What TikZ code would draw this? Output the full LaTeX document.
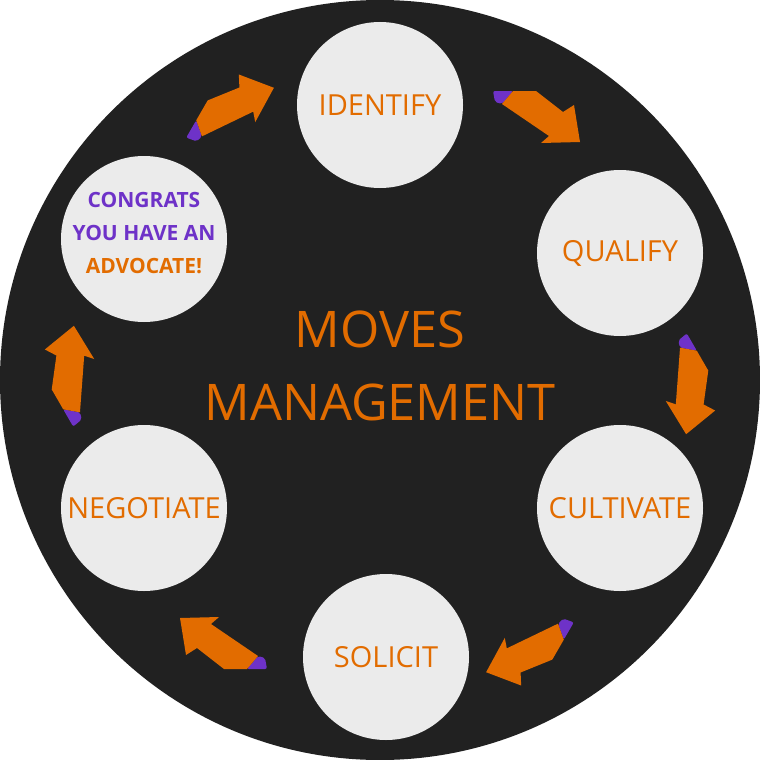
\documentclass[tikz,border=0pt]{standalone}
\usepackage{fontspec}
\setmainfont{Open Sans}
\definecolor{orng}{RGB}{226,108,0}
\definecolor{purp}{RGB}{110,50,200}
\definecolor{bgdark}{RGB}{33,33,33}
\definecolor{nodefill}{RGB}{235,235,235}
\begin{document}
\begin{tikzpicture}[x=1pt,y=-1pt,
  stage/.style={circle,fill=nodefill,minimum size=166pt,inner sep=0pt,text=orng,font=\fontsize{29}{30}\selectfont},
  title/.style={text=orng,font=\fontsize{50.5}{73}\selectfont,align=center},
  congr/.style={font=\bfseries\fontsize{21}{33}\selectfont,align=center}]
\useasboundingbox (0,0) rectangle (760,760);
\fill[white] (0,0) rectangle (760,760);
\fill[bgdark] (380,380) circle[radius=380];
\node[stage] (identify) at (380,105) {IDENTIFY};
\node[stage] (qualify) at (620,253) {QUALIFY};
\node[stage] (cultivate) at (620,508) {CULTIVATE};
\node[stage] (solicit) at (386,657) {SOLICIT};
\node[stage] (negotiate) at (144,508) {NEGOTIATE};
\node[stage] (congrats) at (144,239) {};
\node[congr] (congtext) at (144,233) {\textcolor{purp}{CONGRATS}\\\textcolor{purp}{YOU HAVE AN}\\\textcolor{orng}{ADVOCATE!}};
\node[title] (center) at (380,366) {MOVES\\MANAGEMENT};
\foreach \k in {0,...,5}{
 \begin{scope}[rotate around={-60*\k:(380,380)}]
  \fill[purp,rounded corners=2pt] (513,91) -- (493,91) -- (495,102) -- (502,104) -- cycle;
  \fill[orng] (513,91) -- (536,91) -- (563,112) -- (574,105) -- (580,142) -- (541,143) -- (549,136) -- (502,104) -- cycle;
 \end{scope}}
\end{tikzpicture}
\end{document}
